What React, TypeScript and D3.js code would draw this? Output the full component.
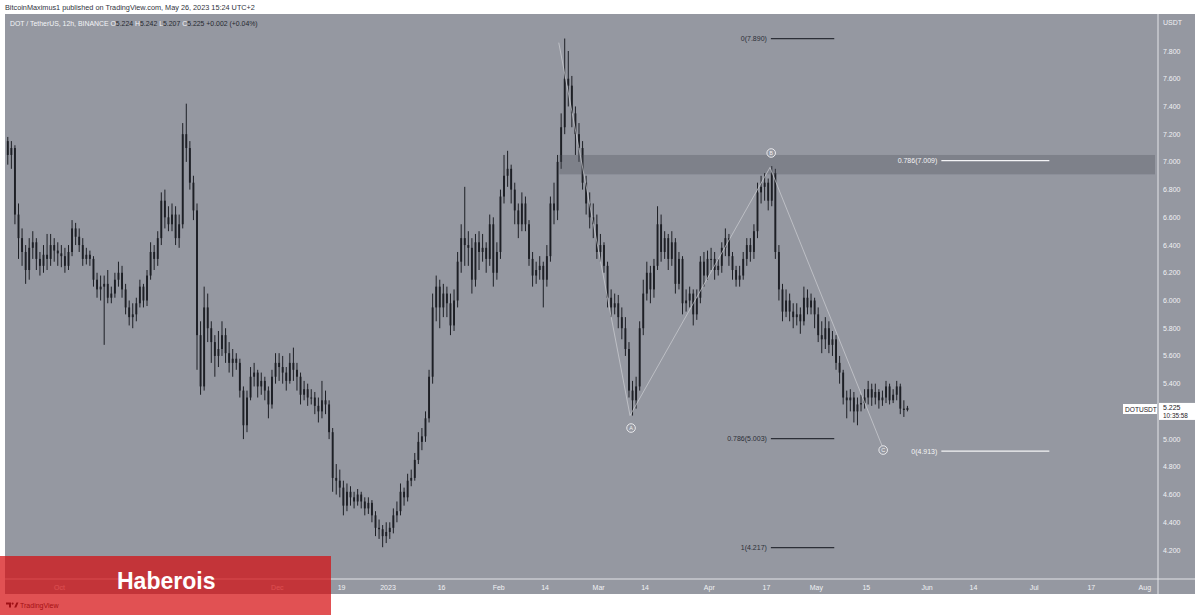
import React from "react";
import * as d3 from "d3";

// ---- data (daily estimates) ----
const firstOpen = 7.15;
const closes = [
  // Sep 16-30
  7.05, 7.10, 6.62, 6.45, 6.35, 6.22, 6.38, 6.42, 6.30, 6.25, 6.33, 6.30, 6.40, 6.36, 6.34,
  // Oct
  6.32, 6.25, 6.35, 6.52, 6.46, 6.40, 6.30, 6.33, 6.30, 6.15, 6.08, 6.10, 6.12, 6.02, 6.05, 6.15, 6.20, 6.08, 5.95, 5.88,
  5.90, 5.98, 6.10, 6.00, 6.18, 6.35, 6.30, 6.45, 6.72, 6.60, 6.55,
  // Nov
  6.62, 6.45, 6.55, 7.20, 7.10, 6.85, 6.65, 5.75, 5.38, 5.95, 5.80, 5.70, 5.60, 5.65, 5.75, 5.62, 5.55, 5.58, 5.55, 5.35,
  5.10, 5.30, 5.45, 5.48, 5.38, 5.42, 5.35, 5.25, 5.45, 5.55,
  // Dec
  5.52, 5.48, 5.42, 5.55, 5.50, 5.45, 5.32, 5.36, 5.30, 5.30, 5.24, 5.20, 5.28, 5.25, 5.05, 4.72, 4.70, 4.65, 4.52, 4.62,
  4.58, 4.55, 4.60, 4.55, 4.50, 4.54, 4.45, 4.36, 4.35, 4.30, 4.33,
  // Jan
  4.36, 4.45, 4.48, 4.62, 4.58, 4.70, 4.72, 4.85, 4.98, 5.02, 5.15, 5.45, 5.95, 6.10, 5.95, 6.05, 5.98, 5.82, 6.00, 6.28,
  6.45, 6.40, 6.38, 6.15, 6.42, 6.35, 6.38, 6.30, 6.55, 6.20, 6.35,
  // Feb
  6.75, 6.90, 6.95, 6.80, 6.65, 6.55, 6.70, 6.55, 6.30, 6.18, 6.22, 6.25, 6.15, 6.32, 6.70, 6.65, 7.00, 7.25, 7.60, 7.55,
  7.35, 7.20, 7.10, 6.85, 6.70, 6.60, 6.55, 6.35,
  // Mar
  6.40, 6.25, 6.02, 5.95, 5.98, 5.88, 5.80, 5.65, 5.35, 5.28, 5.38, 5.80, 6.05, 6.20, 6.08, 6.25, 6.55, 6.35, 6.45, 6.30,
  6.42, 6.12, 6.30, 5.98, 6.00, 6.05, 5.90, 6.02, 6.28, 6.18, 6.30,
  // Apr
  6.30, 6.22, 6.25, 6.38, 6.45, 6.32, 6.22, 6.15, 6.18, 6.30, 6.40, 6.35, 6.50, 6.78, 6.82, 6.85, 6.72, 6.92, 6.35, 6.08,
  5.92, 6.00, 5.92, 5.88, 5.90, 5.85, 6.02, 5.95, 6.00, 5.90,
  // May 1-26
  5.75, 5.72, 5.80, 5.68, 5.72, 5.55, 5.48, 5.30, 5.28, 5.30, 5.20, 5.25, 5.26, 5.30, 5.36, 5.30, 5.34, 5.28, 5.30, 5.38,
  5.28, 5.32, 5.38, 5.22, 5.21, 5.225,
];
const highs = [
  7.18, 7.15, 7.12, 6.70, 6.52, 6.40, 6.45, 6.50, 6.45, 6.35, 6.40, 6.48, 6.48, 6.45, 6.42,
  6.40, 6.38, 6.40, 6.58, 6.56, 6.52, 6.45, 6.38, 6.36, 6.32, 6.20, 6.18, 6.18, 6.22, 6.10, 6.20, 6.28, 6.25, 6.12, 6.00,
  5.98, 6.02, 6.15, 6.12, 6.22, 6.42, 6.40, 6.50, 6.78, 6.80, 6.68,
  6.70, 6.68, 6.62, 7.28, 7.42, 7.15, 6.90, 6.70, 5.85, 6.10, 6.05, 5.85, 5.75, 5.78, 5.85, 5.80, 5.70, 5.65, 5.62, 5.58,
  5.38, 5.35, 5.52, 5.55, 5.50, 5.48, 5.45, 5.38, 5.50, 5.62,
  5.62, 5.60, 5.52, 5.62, 5.66, 5.55, 5.48, 5.42, 5.40, 5.36, 5.34, 5.30, 5.42, 5.35, 5.28, 5.08, 4.82, 4.78, 4.70, 4.68,
  4.66, 4.62, 4.64, 4.62, 4.58, 4.58, 4.56, 4.48, 4.42, 4.38, 4.40,
  4.40, 4.50, 4.55, 4.68, 4.65, 4.75, 4.78, 4.90, 5.05, 5.08, 5.20, 5.50, 6.05, 6.18, 6.15, 6.12, 6.10, 6.05, 6.08, 6.35,
  6.55, 6.82, 6.50, 6.45, 6.48, 6.50, 6.48, 6.42, 6.62, 6.60, 6.42,
  6.80, 7.05, 7.08, 6.98, 6.85, 6.70, 6.78, 6.75, 6.58, 6.35, 6.28, 6.32, 6.28, 6.40, 6.75, 6.85, 7.05, 7.35, 7.89, 7.80,
  7.62, 7.40, 7.28, 7.15, 6.90, 6.78, 6.70, 6.62,
  6.48, 6.42, 6.28, 6.08, 6.05, 6.04, 5.95, 5.88, 5.70, 5.42, 5.45, 5.85, 6.15, 6.28, 6.25, 6.30, 6.68, 6.62, 6.50, 6.48,
  6.50, 6.45, 6.35, 6.32, 6.08, 6.10, 6.08, 6.08, 6.32, 6.35, 6.36,
  6.38, 6.35, 6.30, 6.42, 6.52, 6.48, 6.35, 6.25, 6.25, 6.35, 6.45, 6.45, 6.55, 6.85, 6.90, 6.92, 6.88, 6.97, 6.95, 6.40,
  6.12, 6.08, 6.05, 5.98, 5.98, 5.95, 6.10, 6.08, 6.05, 6.02,
  5.95, 5.85, 5.88, 5.85, 5.78, 5.75, 5.60, 5.50, 5.35, 5.36, 5.34, 5.30, 5.32, 5.36, 5.42, 5.40, 5.40, 5.36, 5.35, 5.42,
  5.40, 5.36, 5.42, 5.40, 5.28, 5.24,
];
const lows = [
  6.98, 6.95, 6.55, 6.30, 6.25, 6.12, 6.15, 6.30, 6.22, 6.18, 6.20, 6.22, 6.25, 6.28, 6.25,
  6.24, 6.20, 6.22, 6.32, 6.40, 6.35, 6.25, 6.26, 6.25, 6.10, 6.02, 6.00, 5.68, 5.98, 5.98, 6.02, 6.10, 6.02, 5.90, 5.82,
  5.80, 5.85, 5.95, 5.95, 5.96, 6.15, 6.22, 6.25, 6.40, 6.52, 6.50,
  6.50, 6.40, 6.38, 6.52, 7.00, 6.80, 6.58, 5.50, 5.32, 5.35, 5.70, 5.55, 5.45, 5.52, 5.60, 5.55, 5.48, 5.45, 5.50, 5.30,
  5.00, 5.05, 5.28, 5.38, 5.30, 5.32, 5.28, 5.15, 5.22, 5.40,
  5.42, 5.40, 5.35, 5.40, 5.42, 5.35, 5.25, 5.28, 5.24, 5.25, 5.18, 5.12, 5.15, 5.18, 5.00, 4.62, 4.60, 4.58, 4.45, 4.48,
  4.52, 4.50, 4.52, 4.50, 4.45, 4.46, 4.40, 4.30, 4.28, 4.22, 4.25,
  4.28, 4.32, 4.40, 4.45, 4.52, 4.55, 4.66, 4.70, 4.82, 4.92, 4.98, 5.12, 5.40, 5.85, 5.80, 5.88, 5.88, 5.75, 5.78, 5.95,
  6.20, 6.25, 6.25, 6.05, 6.10, 6.22, 6.28, 6.20, 6.25, 6.10, 6.15,
  6.30, 6.70, 6.82, 6.70, 6.55, 6.45, 6.50, 6.50, 6.25, 6.10, 6.12, 6.15, 5.95, 6.10, 6.28, 6.55, 6.58, 6.95, 7.20, 7.40,
  7.25, 7.05, 7.00, 6.80, 6.62, 6.52, 6.45, 6.30,
  6.28, 6.20, 5.95, 5.88, 5.90, 5.80, 5.72, 5.60, 5.30, 5.17, 5.22, 5.35, 5.75, 6.00, 5.98, 6.02, 6.22, 6.28, 6.30, 6.22,
  6.25, 6.05, 6.08, 5.90, 5.92, 5.95, 5.82, 5.86, 5.98, 6.10, 6.15,
  6.22, 6.15, 6.18, 6.20, 6.32, 6.25, 6.15, 6.10, 6.10, 6.15, 6.25, 6.28, 6.30, 6.45, 6.70, 6.72, 6.65, 6.68, 6.30, 6.00,
  5.85, 5.88, 5.85, 5.80, 5.82, 5.76, 5.82, 5.90, 5.90, 5.80,
  5.70, 5.62, 5.65, 5.62, 5.60, 5.50, 5.40, 5.25, 5.15, 5.20, 5.12, 5.10, 5.20, 5.22, 5.25, 5.24, 5.25, 5.22, 5.24, 5.26,
  5.25, 5.26, 5.28, 5.18, 5.16, 5.20,
];

const priceTicks = [4.2, 4.4, 4.6, 4.8, 5.0, 5.4, 5.6, 5.8, 6.0, 6.2, 6.4, 6.6, 6.8, 7.0, 7.2, 7.4, 7.6, 7.8];
const timeTickDates = [
  "2022-10-01", "2022-12-01", "2022-12-19", "2023-01-01", "2023-01-16",
  "2023-02-01", "2023-02-14", "2023-03-01", "2023-03-14", "2023-04-01", "2023-04-17", "2023-05-01", "2023-05-15",
  "2023-06-01", "2023-06-14", "2023-07-01", "2023-07-17", "2023-08-01",
];
const timeTickLabels = [
  "Oct", "Dec", "19", "2023", "16", "Feb", "14", "Mar", "14", "Apr", "17", "May", "15", "Jun", "14",
  "Jul", "17", "Aug",
];

const fibLabels = ["0(7.890)", "1(4.217)", "0.786(5.003)", "0.786(7.009)", "0(4.913)"];
const fibPrices = [7.89, 4.217, 5.003, 7.009, 4.913];
const fibLight = [false, false, false, true, true];
const fibStart = ["2023-04-18T06:00", "2023-04-18T06:00", "2023-04-18T06:00", "2023-06-05T00:00", "2023-06-05T00:00"];
const fibEnd = ["2023-05-06T00:00", "2023-05-06T00:00", "2023-05-06T00:00", "2023-07-05T06:00", "2023-07-05T06:00"];

const waveDates = ["2023-02-17T20:00", "2023-03-09T19:00", "2023-04-18T00:00", "2023-05-19T10:00"];
const wavePrices = [7.86, 5.17, 6.96, 4.95];
const waveLabels = ["A", "B", "C"];
const waveLabelDates = ["2023-03-10T02:00", "2023-04-18T08:00", "2023-05-19T17:00"];
const waveLabelPrices = [5.08, 7.064, 4.921];

const zoneTop = 7.05;
const zoneBottom = 6.91;
const zoneStart = "2023-02-18T00:00";
const lastPrice = 5.225;

const FONT = "'Liberation Sans', Arial, sans-serif";
const utc = (s: string) => new Date(s.length <= 10 ? s + "T00:00:00Z" : s + ":00Z");

export default function App() {
  const x = d3
    .scaleUtc()
    .domain([utc("2023-01-01"), utc("2023-08-01")])
    .range([388, 388 + 212 * 3.57]);
  const y = d3.scaleLinear().domain([4.2, 7.8]).range([550, 51]);

  const DAY = 86400000;
  const start = Date.UTC(2022, 8, 16);
  const candles = closes.map((c, i) => {
    const o = i === 0 ? firstOpen : closes[i - 1];
    return {
      t: new Date(start + i * DAY + DAY / 2),
      o,
      c,
      h: Math.max(highs[i], o, c),
      l: Math.min(lows[i], o, c),
    };
  });
  const bodyW = 1.9;
  const candleColor = "#1d1f25";

  const waveLine = d3
    .line<number>()
    .x((_, i) => x(utc(waveDates[i])))
    .y((p) => y(p));

  return (
    <svg
      width={1200}
      height={615}
      style={{ position: "absolute", left: 0, top: 0, background: "#ffffff" }}
      fontFamily={FONT}
    >
      <rect x={0} y={0} width={1200} height={615} fill="#ffffff" />
      <text x={5} y={10} fontSize={7.3} fill="#30333c">
        BitcoinMaximus1 published on TradingView.com, May 26, 2023 15:24 UTC+2
      </text>
      {/* chart frame */}
      <rect x={5} y={14} width={1190} height={580} fill="#9598a1" />

      {/* legend */}
      <text x={10} y={26} fontSize={6.9} fill="#f3f4f7">
        DOT / TetherUS, 12h, BINANCE{"  "}
        <tspan fill="#f3f4f7">O</tspan>
        <tspan fill="#26282f">5.224 </tspan>
        <tspan fill="#f3f4f7">H</tspan>
        <tspan fill="#26282f">5.242 </tspan>
        <tspan fill="#f3f4f7">L</tspan>
        <tspan fill="#26282f">5.207 </tspan>
        <tspan fill="#f3f4f7">C</tspan>
        <tspan fill="#26282f">5.225 +0.002 (+0.04%)</tspan>
      </text>

      {/* candles */}
      <g>
        {candles.map((d, i) => {
          const cx = x(d.t);
          const top = y(Math.max(d.o, d.c));
          const bot = y(Math.min(d.o, d.c));
          return (
            <g key={i}>
              <line x1={cx} x2={cx} y1={y(d.h)} y2={y(d.l)} stroke={candleColor} strokeWidth={1} />
              <rect
                x={cx - bodyW / 2}
                y={top}
                width={bodyW}
                height={Math.max(1, bot - top)}
                fill={candleColor}
              />
            </g>
          );
        })}
      </g>

      {/* resistance zone */}
      <rect
        x={x(utc(zoneStart))}
        y={y(zoneTop)}
        width={1155 - x(utc(zoneStart))}
        height={y(zoneBottom) - y(zoneTop)}
        fill="#50535c"
        opacity={0.33}
      />

      {/* wave lines */}
      <path d={waveLine(wavePrices) || ""} fill="none" stroke="#cfd1d6" strokeWidth={0.8} opacity={0.85} />
      {waveLabels.map((lab, i) => {
        const cx = x(utc(waveLabelDates[i]));
        const cy = y(waveLabelPrices[i]);
        return (
          <g key={lab}>
            <circle cx={cx} cy={cy} r={4.3} fill="#9598a1" stroke="#f2f2f4" strokeWidth={0.9} />
            <text x={cx} y={cy + 2} fontSize={5.5} fill="#f2f2f4" textAnchor="middle">
              {lab}
            </text>
          </g>
        );
      })}

      {/* fib levels */}
      {fibLabels.map((lab, i) => {
        const yy = y(fibPrices[i]);
        const x1 = x(utc(fibStart[i]));
        const x2 = x(utc(fibEnd[i]));
        const col = fibLight[i] ? "#f4f4f6" : "#2c2f37";
        return (
          <g key={lab + i}>
            <line x1={x1} x2={x2} y1={yy} y2={yy} stroke={col} strokeWidth={1.2} />
            <text x={x1 - 4} y={yy + 2.5} fontSize={7} fill={col} textAnchor="end">
              {lab}
            </text>
          </g>
        );
      })}

      {/* axes separators */}
      <line x1={1158} x2={1158} y1={14} y2={594} stroke="#e3e4e8" strokeWidth={1} />
      <line x1={5} x2={1195} y1={579} y2={579} stroke="#e3e4e8" strokeWidth={1} />

      {/* price axis */}
      <text x={1163} y={25} fontSize={7} fill="#f0f1f4">
        USDT
      </text>
      {priceTicks.map((v) => (
        <text key={v} x={1163} y={y(v) + 2.5} fontSize={7} fill="#f0f1f4">
          {d3.format(".3f")(v)}
        </text>
      ))}

      {/* last price labels */}
      <rect x={1123} y={404} width={34} height={10} fill="#ffffff" />
      <text x={1125} y={411.6} fontSize={6.6} fill="#1f2128">
        DOTUSDT
      </text>
      <rect x={1159} y={y(lastPrice) - 5} width={36} height={17} fill="#ffffff" />
      <text x={1163} y={y(lastPrice) + 2.3} fontSize={7} fill="#1f2128">
        {d3.format(".3f")(lastPrice)}
      </text>
      <text x={1163} y={y(lastPrice) + 10} fontSize={6.4} fill="#1f2128">
        10:35:58
      </text>

      {/* time axis */}
      {timeTickDates.map((d, i) => (
        <text key={d} x={x(utc(d))} y={590} fontSize={7} fill="#f0f1f4" textAnchor="middle">
          {timeTickLabels[i]}
        </text>
      ))}

      {/* TradingView logo */}
      <g fill="#131722">
        <path d="M6 602.5h5v5h-2v-3h-3z" />
        <circle cx={12.6} cy={603.6} r={1.1} />
        <path d="M14.2 607.5l2.2-5h2.1l-2.2 5z" />
      </g>
      <text x={20} y={607.5} fontSize={7} fill="#131722">
        TradingView
      </text>

      {/* Haberois banner */}
      <rect x={0} y={556} width={331} height={59} fill="rgb(213,14,16)" opacity={0.72} />
      <text x={117} y={589} fontSize={23} fontWeight="bold" fill="#ffffff" fontFamily={FONT}>
        Haberois
      </text>
    </svg>
  );
}
